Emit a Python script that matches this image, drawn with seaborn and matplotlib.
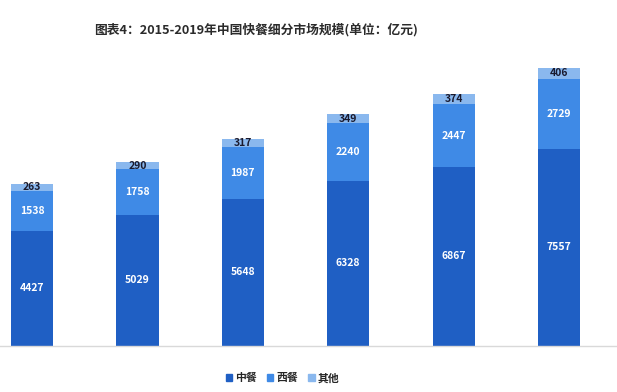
import numpy as np
import pandas as pd
import matplotlib
matplotlib.use("Agg")
import matplotlib.pyplot as plt
import seaborn as sns

# dades llegides del gràfic
anys = ["2014", "2015", "2016", "2017", "2018", "2019"]
zhongcan = [4427, 5029, 5648, 6328, 6867, 7557]
xican = [1538, 1758, 1987, 2240, 2447, 2729]
qita = [263, 290, 317, 349, 374, 406]
series = ["中餐", "西餐", "其他"]
colors = ["#1f5fc4", "#3f8ae6", "#8ab8ee"]

sns.set_theme(style="white")
plt.rcParams['font.family'] = ['Noto Sans CJK SC', 'DejaVu Sans']

df = pd.DataFrame({"year": anys, "zhong": zhongcan, "xi": xican, "qi": qita})
df["c1"] = df["zhong"]
df["c2"] = df["zhong"] + df["xi"]
df["c3"] = df["c2"] + df["qi"]

fig = plt.figure(figsize=(6.17, 3.92), dpi=100)
ax = fig.add_axes([0.0, 0.1186, 1.0, 0.7283])

# barres apilades: primer el total, després les capes de sota
for col, c in zip(["c3", "c2", "c1"], colors[::-1]):
    sns.barplot(data=df, x="year", y=col, color=c, width=0.4,
                saturation=1, ax=ax, edgecolor="none")

ax.set_xlim(-0.304, 5.55)
ax.set_ylim(0, 11000)
ax.set_xlabel("")
ax.set_ylabel("")
ax.set_xticks([])
ax.set_yticks([])
for s in ["top", "left", "right"]:
    ax.spines[s].set_visible(False)
ax.spines["bottom"].set_color("#d9d9d9")
ax.spines["bottom"].set_linewidth(1)

# etiquetes
for i, row in df.iterrows():
    ax.text(i, row["zhong"] / 2, str(row["zhong"]), ha="center", va="center",
            color="white", fontsize=7.5, fontweight="bold")
    ax.text(i, row["zhong"] + row["xi"] / 2, str(row["xi"]), ha="center", va="center",
            color="white", fontsize=7.5, fontweight="bold")
    ax.text(i, row["c2"] + row["qi"] / 2, str(row["qi"]), ha="center", va="center",
            color="#1a1a2e", fontsize=7.5, fontweight="bold")

fig.text(0.415, 0.925, "图表4：2015-2019年中国快餐细分市场规模(单位：亿元)",
         ha="center", va="center", fontsize=9.2, fontweight="bold", color="#2b2b2b")

handles = [plt.Rectangle((0, 0), 1, 1, color=c) for c in colors]
fig.legend(handles, series, loc="center", bbox_to_anchor=(0.458, 0.035), ncol=3,
           frameon=False, handlelength=0.6, handleheight=0.6,
           handletextpad=0.3, columnspacing=0.9,
           prop={"weight": "bold", "size": 7.8})

fig.savefig("out.png", dpi=100)
